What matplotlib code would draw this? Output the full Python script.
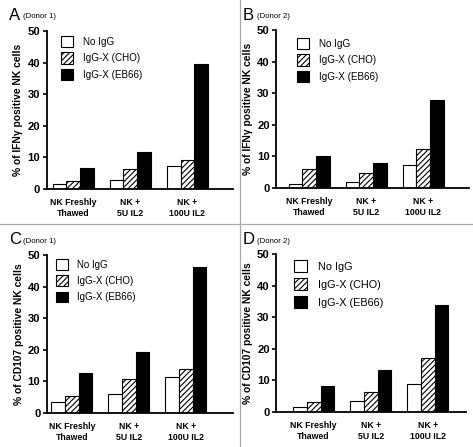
import numpy as np
import matplotlib.pyplot as plt
from matplotlib.lines import Line2D

plt.rcParams['font.family'] = ['Liberation Sans', 'DejaVu Sans']
plt.rcParams['hatch.linewidth'] = 0.8

# Datos
grupos = ['NK Freshly\nThawed', 'NK +\n5U IL2', 'NK +\n100U IL2']
series = ['No IgG', 'IgG-X (CHO)', 'IgG-X (EB66)']

a_no_igg = [1.6, 2.8, 7.2]
a_cho = [2.4, 6.2, 9.3]
a_eb66 = [6.6, 11.7, 39.4]

b_no_igg = [1.4, 1.9, 7.4]
b_cho = [6.0, 4.6, 12.5]
b_eb66 = [10.2, 8.0, 27.9]

c_no_igg = [3.4, 6.1, 11.5]
c_cho = [5.3, 10.7, 13.9]
c_eb66 = [12.7, 19.2, 46.3]

d_no_igg = [1.6, 3.6, 8.8]
d_cho = [3.2, 6.2, 17.0]
d_eb66 = [8.2, 13.2, 34.0]

W, H = 473, 447
fig = plt.figure(figsize=(W / 100, H / 100), dpi=100)

# (letra, donante, etiqueta y, datos, eje izq px, eje der px, y0 px, y50 px, xlim, leyenda, tamaño leyenda)
paneles = [
    ('A', '(Donor 1)', '% of IFNγ positive NK cells', (a_no_igg, a_cho, a_eb66),
     46.5, 233, 189, 31, (-0.47, 2.80), (61, 36), 7.1),
    ('B', '(Donor 2)', '% of IFNγ positive NK cells', (b_no_igg, b_cho, b_eb66),
     276, 469, 188, 30, (-0.58, 2.80), (297, 38), 7.1),
    ('C', '(Donor 1)', '% of CD107 positive NK cells', (c_no_igg, c_cho, c_eb66),
     46.7, 233, 413, 255, (-0.44, 2.83), (56, 259), 7.0),
    ('D', '(Donor 2)', '% of CD107 positive NK cells', (d_no_igg, d_cho, d_eb66),
     276, 466, 412, 254, (-0.66, 2.67), (294, 260), 7.8),
]

x = np.arange(len(grupos))
ancho = 0.24

for letra, donante, ylab, datos, xl, xr, y0, y50, xlim, ley, fsl in paneles:
    ax = fig.add_axes([xl / W, 1 - y0 / H, (xr - xl) / W, (y0 - y50) / H])
    estilos = [dict(color='white', hatch=None), dict(color='white', hatch='//////'),
               dict(color='black', hatch=None)]
    barras = []
    for i, (vals, est) in enumerate(zip(datos, estilos)):
        b = ax.bar(x + (i - 1) * ancho, vals, ancho, facecolor=est['color'],
                   edgecolor='black', linewidth=0.8, hatch=est['hatch'], label=series[i])
        barras.append(b)
    ax.set_xlim(*xlim)
    ax.set_ylim(0, 50)
    ax.set_yticks([0, 10, 20, 30, 40, 50])
    ax.set_xticks(x)
    ax.set_xticklabels(grupos, fontsize=6.3, fontweight='bold', linespacing=1.35)
    ax.tick_params(axis='x', length=0, pad=6.5)
    ax.tick_params(axis='y', length=3, width=1.2, pad=1.5, labelsize=8.1)
    for t in ax.get_yticklabels():
        t.set_fontweight('bold')
    ax.spines['top'].set_visible(False)
    ax.spines['right'].set_visible(False)
    ax.spines['left'].set_linewidth(1.3)
    ax.spines['bottom'].set_linewidth(1.3)
    ax.set_ylabel(ylab, fontsize=7.4, fontweight='bold', labelpad=3)

    ax.legend(handles=barras, loc='upper left', bbox_to_anchor=(ley[0] / W, 1 - ley[1] / H),
              bbox_transform=fig.transFigure, frameon=False, fontsize=fsl,
              handlelength=1.2, handleheight=1.35, handletextpad=1.0,
              labelspacing=0.55, borderpad=0, borderaxespad=0)

    # letra del panel
    px = 9 if xl < 100 else 243
    py = 15 if y0 < 300 else 240
    fig.text(px / W, 1 - py / H, letra, fontsize=12, va='center', ha='left')
    fig.text((px + 14) / W, 1 - (py + 1) / H, donante, fontsize=5.6, va='center', ha='left')

# lineas grises de separación
fig.add_artist(Line2D([240 / W, 240 / W], [0, 1], color='#aaaaaa', linewidth=0.9,
                      transform=fig.transFigure))
fig.add_artist(Line2D([0, 1], [1 - 223.5 / H, 1 - 223.5 / H], color='#aaaaaa', linewidth=0.9,
                      transform=fig.transFigure))

plt.savefig('out.png', dpi=100)
